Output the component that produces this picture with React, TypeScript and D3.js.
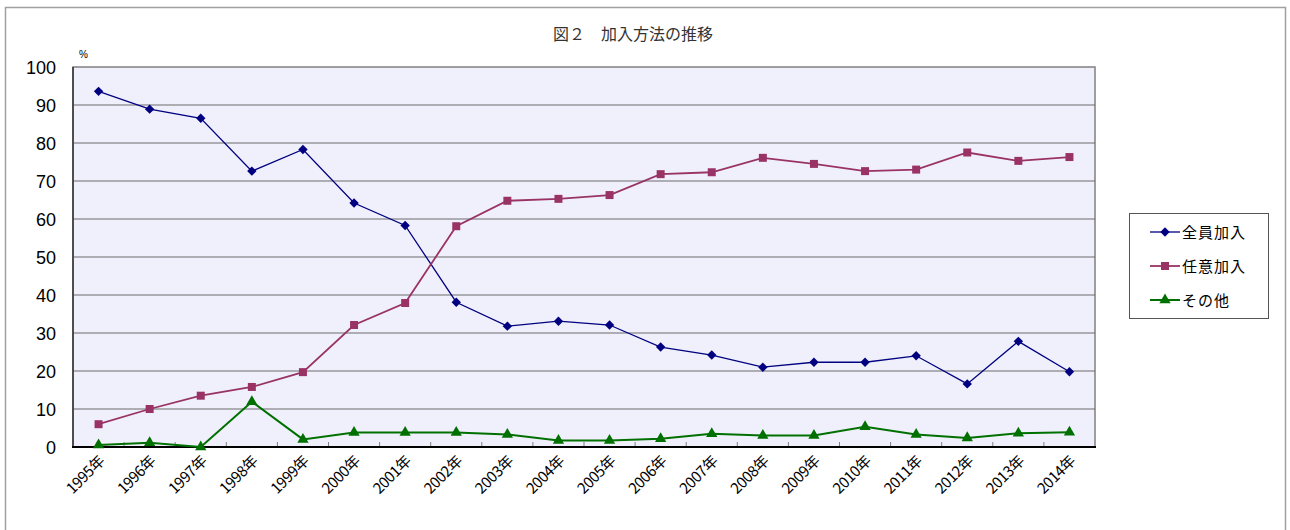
import React, { useEffect, useRef } from 'react';
import * as d3 from 'd3';

const years = ['1995年', '1996年', '1997年', '1998年', '1999年', '2000年', '2001年', '2002年', '2003年', '2004年',
  '2005年', '2006年', '2007年', '2008年', '2009年', '2010年', '2011年', '2012年', '2013年', '2014年'];

// 全員加入
const zenin = [93.6, 88.9, 86.5, 72.6, 78.3, 64.2, 58.3, 38.1, 31.8, 33.1,
  32.1, 26.3, 24.2, 21.0, 22.3, 22.3, 24.0, 16.6, 27.8, 19.8];
// 任意加入
const nini = [6.0, 10.0, 13.5, 15.8, 19.7, 32.1, 37.9, 58.1, 64.8, 65.3,
  66.3, 71.8, 72.3, 76.1, 74.5, 72.6, 73.0, 77.5, 75.3, 76.3];
// その他
const sonota = [0.5, 1.1, 0.0, 11.9, 2.0, 3.8, 3.8, 3.8, 3.3, 1.7,
  1.7, 2.2, 3.5, 3.0, 3.0, 5.3, 3.3, 2.4, 3.6, 3.9];

const yTicks = [0, 10, 20, 30, 40, 50, 60, 70, 80, 90, 100];

// wide diamond like the spreadsheet marker
const wideDiamond = {
  draw(ctx: any, size: number) {
    const r = Math.sqrt(size / 2);
    ctx.moveTo(0, -r);
    ctx.lineTo(r, 0);
    ctx.lineTo(0, r);
    ctx.lineTo(-r, 0);
    ctx.closePath();
  },
};

const seriesList = [
  { name: '全員加入', values: zenin, color: '#000080', width: 1.3, symbol: wideDiamond, size: 44 },
  { name: '任意加入', values: nini, color: '#993366', width: 1.8, symbol: d3.symbolSquare, size: 64 },
  { name: 'その他', values: sonota, color: '#007000', width: 2, symbol: d3.symbolTriangle, size: 55 },
];

export default function App() {
  const ref = useRef<SVGSVGElement>(null);

  useEffect(() => {
    const svg = d3.select(ref.current);
    svg.selectAll('*').remove();

    const plot = { left: 73, top: 67, right: 1095, bottom: 447 };
    const font = '"Liberation Sans", Arial, "Noto Sans CJK JP", sans-serif';
    const jp = '"Noto Sans CJK JP", sans-serif';

    // outer frame
    svg.append('rect')
      .attr('x', 5.5).attr('y', 7.5).attr('width', 1280).attr('height', 540)
      .attr('fill', 'white').attr('stroke', '#a0a0a0').attr('stroke-width', 1.5);

    svg.append('text')
      .attr('x', 633).attr('y', 40)
      .attr('text-anchor', 'middle')
      .attr('font-family', jp)
      .attr('font-size', 16).attr('fill', '#333')
      .text('図２　加入方法の推移');

    const x = d3.scaleBand().domain(years).range([plot.left, plot.right]);
    const y = d3.scaleLinear().domain([0, 100]).range([plot.bottom, plot.top]);

    svg.append('rect')
      .attr('x', plot.left).attr('y', plot.top)
      .attr('width', plot.right - plot.left).attr('height', plot.bottom - plot.top)
      .attr('fill', '#f0f0fc').attr('stroke', '#808080').attr('stroke-width', 1.5);

    // gridlines
    svg.append('g').selectAll('line')
      .data(yTicks.filter(t => t > 0 && t < 100))
      .enter().append('line')
      .attr('x1', plot.left).attr('x2', plot.right)
      .attr('y1', d => y(d)).attr('y2', d => y(d))
      .attr('stroke', '#6a6a6a').attr('stroke-width', 1.2);

    // x ticks (inside, at category boundaries)
    svg.append('g').selectAll('line')
      .data(years.slice(1))
      .enter().append('line')
      .attr('x1', d => x(d)!).attr('x2', d => x(d)!)
      .attr('y1', plot.bottom).attr('y2', plot.bottom - 5)
      .attr('stroke', '#808080');

    // axes lines
    svg.append('line')
      .attr('x1', plot.left).attr('x2', plot.left)
      .attr('y1', plot.top).attr('y2', plot.bottom)
      .attr('stroke', '#333').attr('stroke-width', 1.5);
    svg.append('line')
      .attr('x1', plot.left - 1).attr('x2', plot.right + 1)
      .attr('y1', plot.bottom).attr('y2', plot.bottom)
      .attr('stroke', '#000').attr('stroke-width', 2);

    // y labels
    svg.append('g').selectAll('text')
      .data(yTicks)
      .enter().append('text')
      .attr('x', 56).attr('y', d => y(d) + 6.5)
      .attr('text-anchor', 'end')
      .attr('font-family', font).attr('font-size', 18).attr('fill', '#000')
      .text(d => d);

    svg.append('text')
      .attr('x', 79).attr('y', 58)
      .attr('font-family', font).attr('font-size', 10)
      .text('%');

    // x labels
    svg.append('g').selectAll('text')
      .data(years)
      .enter().append('text')
      .attr('transform', d => `translate(${x(d)! + x.bandwidth() / 2 + 7},${plot.bottom + 15}) rotate(-45)`)
      .attr('text-anchor', 'end')
      .attr('font-family', jp).attr('font-size', 15).attr('letter-spacing', -0.4).attr('fill', '#000')
      .text(d => d);

    const cx = (i: number) => x(years[i])! + x.bandwidth() / 2;

    seriesList.forEach(s => {
      const line = d3.line<number>().x((_, i) => cx(i)).y(v => y(v));
      svg.append('path')
        .datum(s.values)
        .attr('d', line)
        .attr('fill', 'none')
        .attr('stroke', s.color)
        .attr('stroke-width', s.width);
      svg.append('g').selectAll('path')
        .data(s.values)
        .enter().append('path')
        .attr('d', d3.symbol().type(s.symbol as any).size(s.size)())
        .attr('transform', (v, i) => `translate(${cx(i)},${y(v)})`)
        .attr('fill', s.color);
    });

    // legend
    const lg = svg.append('g');
    lg.append('rect')
      .attr('x', 1129.5).attr('y', 213.5).attr('width', 139).attr('height', 105)
      .attr('fill', 'white').attr('stroke', '#555').attr('stroke-width', 1);
    seriesList.forEach((s, i) => {
      const ly = 232 + i * 34;
      lg.append('line')
        .attr('x1', 1150).attr('x2', 1180).attr('y1', ly).attr('y2', ly)
        .attr('stroke', s.color).attr('stroke-width', s.width);
      lg.append('path')
        .attr('d', d3.symbol().type(s.symbol as any).size(s.size)())
        .attr('transform', `translate(1165,${ly})`)
        .attr('fill', s.color);
      lg.append('text')
        .attr('x', 1182).attr('y', ly + 5.5)
        .attr('font-family', jp)
        .attr('font-size', 15).attr('letter-spacing', 1).attr('fill', '#000')
        .text(s.name);
    });
  }, []);

  return (
    <svg ref={ref} width={1290} height={530} style={{ position: 'absolute', left: 0, top: 0 }} />
  );
}
